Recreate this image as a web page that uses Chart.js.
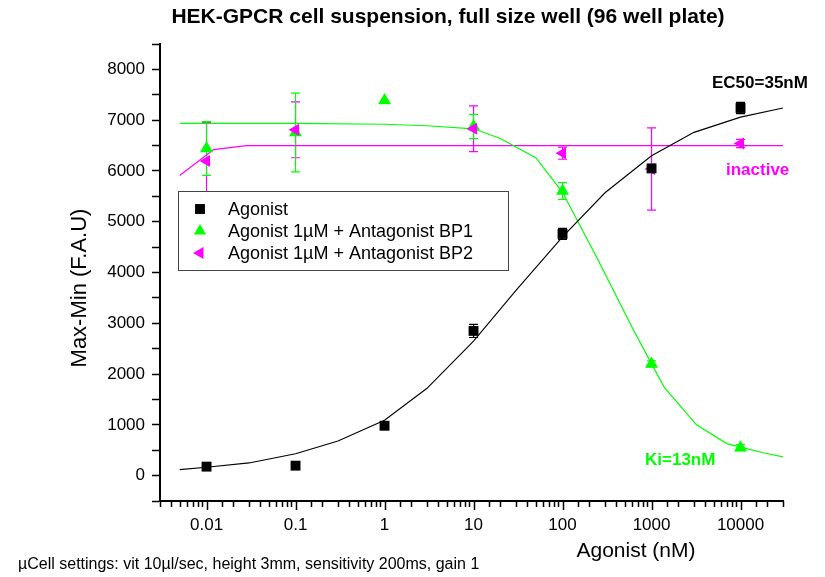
<!DOCTYPE html>
<html>
<head>
<meta charset="utf-8">
<title>HEK-GPCR cell suspension</title>
<script src="https://cdn.jsdelivr.net/npm/chart.js@4/dist/chart.umd.min.js"></script>
<style>
  body { margin: 0; background: #fff; }
  canvas { display: block; }
</style>
</head>
<body>
<canvas id="myChart" width="825" height="577"></canvas>
<script>
// measured points (Max-Min, F.A.U) vs agonist concentration (nM)
var agonistX = [0.01, 0.1, 1, 10, 100, 1000, 10000];
var agonistY = [177, 196, 982, 2850, 4760, 6050, 7240];
var agonistErr = [0, 0, 0, 130, 110, 60, 110];

var bp1X = [0.01, 0.1, 1, 10, 100, 1000, 10000];
var bp1Y = [6444, 6758, 7387, 6876, 5605, 2200, 550];
var bp1Err = [530, 775, 0, 240, 165, 60, 60];

var bp2X = [0.01, 0.1, 10, 100, 1000, 10000];
var bp2Y = [6195, 6810, 6830, 6350, 6040, 6540];
var bp2Err = [760, 550, 450, 120, 810, 80];

// fitted curves
var agonistFitX = [0.005, 0.01, 0.03, 0.1, 0.3, 1, 3, 10, 30, 100, 300, 1000, 3000, 10000, 30000];
var agonistFitY = [118, 165, 250, 430, 680, 1090, 1720, 2650, 3650, 4700, 5570, 6300, 6760, 7060, 7240];

var bp1FitX = [0.005, 0.1, 1, 3, 10, 20, 50, 100, 250, 600, 1000, 1400, 3200, 7000, 10000, 18000, 30000];
var bp1FitY = [6935, 6935, 6920, 6890, 6830, 6640, 6260, 5580, 4250, 2930, 2200, 1730, 1000, 630, 560, 450, 370];

var bp2FitX = [0.005, 0.012, 0.028, 30000];
var bp2FitY = [5910, 6420, 6500, 6500];

var xTickLabels = ["0.01", "0.1", "1", "10", "100", "1000", "10000"];
var yTickLabels = [0, 1000, 2000, 3000, 4000, 5000, 6000, 7000, 8000];

var GREEN = "#00ff00";
var MAGENTA = "#ff00ff";
var FONT = "'Liberation Sans', Arial, Helvetica, sans-serif";

function toPoints(xs, ys) {
  var out = [];
  for (var i = 0; i < xs.length; i++) {
    out.push({ x: xs[i], y: ys[i] });
  }
  return out;
}

function markerPath(ctx, style, x, y, r) {
  ctx.beginPath();
  if (style == "rect") {
    var s = r * Math.SQRT1_2;
    ctx.rect(x - s, y - s, 2 * s, 2 * s);
  } else if (style == "up") {
    ctx.moveTo(x, y - r);
    ctx.lineTo(x + r * 0.866, y + r * 0.5);
    ctx.lineTo(x - r * 0.866, y + r * 0.5);
    ctx.closePath();
  } else {
    ctx.moveTo(x - r, y);
    ctx.lineTo(x + r * 0.5, y - r * 0.866);
    ctx.lineTo(x + r * 0.5, y + r * 0.866);
    ctx.closePath();
  }
}

// vertical error bars with small caps, drawn under the markers
var errorBars = {
  id: "errorBars",
  beforeDatasetsDraw: function(chart) {
    var ctx = chart.ctx;
    var xs = chart.scales.x;
    var ys = chart.scales.y;
    ctx.save();
    chart.data.datasets.forEach(function(ds) {
      if (!ds.errors) return;
      ctx.strokeStyle = ds.borderColor;
      ctx.lineWidth = 1.2;
      for (var i = 0; i < ds.data.length; i++) {
        var e = ds.errors[i];
        if (!e) continue;
        var px = xs.getPixelForValue(ds.data[i].x);
        var top = ys.getPixelForValue(ds.data[i].y + e);
        var bot = ys.getPixelForValue(ds.data[i].y - e);
        ctx.beginPath();
        ctx.moveTo(px, top); ctx.lineTo(px, bot);
        ctx.moveTo(px - 4.5, top); ctx.lineTo(px + 4.5, top);
        ctx.moveTo(px - 4.5, bot); ctx.lineTo(px + 4.5, bot);
        ctx.stroke();
      }
    });
    ctx.restore();
  }
};

// legend box, log ticks on x and all the free text
var decorations = {
  id: "decorations",
  afterDatasetsDraw: function(chart) {
    var ctx = chart.ctx;
    ctx.save();
    ctx.fillStyle = "#fff";
    ctx.fillRect(178, 191, 330, 79);
    ctx.strokeStyle = "#444";
    ctx.lineWidth = 1;
    ctx.strokeRect(178.5, 191.5, 330, 79);

    var entries = [
      { text: "Agonist", color: "#000", style: "rect" },
      { text: "Agonist 1\u00b5M + Antagonist BP1", color: GREEN, style: "up" },
      { text: "Agonist 1\u00b5M + Antagonist BP2", color: MAGENTA, style: "left" }
    ];
    ctx.font = "18px " + FONT;
    ctx.textBaseline = "middle";
    ctx.textAlign = "left";
    for (var i = 0; i < entries.length; i++) {
      var ey = 209 + i * 22;
      ctx.fillStyle = entries[i].color;
      markerPath(ctx, entries[i].style, 200, ey, 7);
      ctx.fill();
      ctx.fillStyle = "#000";
      ctx.fillText(entries[i].text, 228, ey + 1);
    }
    ctx.restore();
  },
  afterDraw: function(chart) {
    var ctx = chart.ctx;
    var xs = chart.scales.x;
    var bottom = chart.chartArea.bottom;
    ctx.save();

    // x ticks: long at decades, short in between
    ctx.strokeStyle = "#000";
    ctx.lineWidth = 1.5;
    xs.ticks.forEach(function(t) {
      var lg = Math.log10(t.value);
      var major = Math.abs(lg - Math.round(lg)) < 1e-6;
      var px = Math.round(xs.getPixelForValue(t.value)) + 0.5;
      ctx.beginPath();
      ctx.moveTo(px, bottom);
      ctx.lineTo(px, bottom + (major ? 9 : 6));
      ctx.stroke();
    });

    ctx.fillStyle = "#000";
    ctx.textBaseline = "middle";
    ctx.textAlign = "center";
    ctx.font = "bold 21px " + FONT;
    ctx.fillText("HEK-GPCR cell suspension, full size well (96 well plate)", 448, 17);

    ctx.font = "21px " + FONT;
    ctx.fillText("Agonist (nM)", 636, 551);
    ctx.font = "22px " + FONT;
    ctx.save();
    ctx.translate(80, 288);
    ctx.rotate(-Math.PI / 2);
    ctx.fillText("Max-Min (F.A.U)", 0, 0);
    ctx.restore();

    ctx.textAlign = "left";
    ctx.font = "16px " + FONT;
    ctx.fillText("\u00b5Cell settings: vit 10\u00b5l/sec, height 3mm, sensitivity 200ms, gain 1", 18, 565);

    ctx.font = "bold 17px " + FONT;
    ctx.fillText("EC50=35nM", 712, 83);
    ctx.fillStyle = MAGENTA;
    ctx.fillText("inactive", 726, 170);
    ctx.fillStyle = GREEN;
    ctx.fillText("Ki=13nM", 645, 460);
    ctx.restore();
  }
};

function getGraph() {
  var ctx = document.getElementById("myChart").getContext("2d");
  var chart = new Chart(ctx, {
    type: "scatter",
    data: {
      datasets: [
        {
          label: "Agonist",
          data: toPoints(agonistX, agonistY),
          errors: agonistErr,
          backgroundColor: "#000",
          borderColor: "#000",
          pointStyle: "rect",
          pointRadius: 7,
          pointBorderWidth: 0,
          order: 1
        },
        {
          label: "Agonist 1\u00b5M + Antagonist BP2",
          data: toPoints(bp2X, bp2Y),
          errors: bp2Err,
          backgroundColor: MAGENTA,
          borderColor: MAGENTA,
          pointStyle: "triangle",
          rotation: -90,
          pointRadius: 7,
          pointBorderWidth: 0,
          order: 2
        },
        {
          label: "Agonist 1\u00b5M + Antagonist BP1",
          data: toPoints(bp1X, bp1Y),
          errors: bp1Err,
          backgroundColor: GREEN,
          borderColor: GREEN,
          pointStyle: "triangle",
          pointRadius: 7.5,
          pointBorderWidth: 0,
          order: 3
        },
        {
          label: "Agonist fit",
          data: toPoints(agonistFitX, agonistFitY),
          showLine: true,
          borderColor: "#000",
          borderWidth: 1.1,
          pointRadius: 0,
          order: 10
        },
        {
          label: "BP1 fit",
          data: toPoints(bp1FitX, bp1FitY),
          showLine: true,
          borderColor: GREEN,
          borderWidth: 1.2,
          pointRadius: 0,
          order: 11
        },
        {
          label: "BP2 fit",
          data: toPoints(bp2FitX, bp2FitY),
          showLine: true,
          borderColor: MAGENTA,
          borderWidth: 1.2,
          pointRadius: 0,
          order: 12
        }
      ]
    },
    options: {
      responsive: false,
      animation: false,
      devicePixelRatio: 1,
      layout: { padding: { top: 44, right: 42, left: 0, bottom: 0 } },
      plugins: {
        legend: { display: false },
        tooltip: { enabled: false }
      },
      scales: {
        x: {
          type: "logarithmic",
          min: 0.003,
          max: 30000,
          afterFit: function(scale) { scale.height = 76; },
          border: { display: true, color: "#000", width: 2 },
          grid: { display: true, drawOnChartArea: false, drawTicks: false, color: "rgba(0,0,0,0)" },
          ticks: {
            autoSkip: false,
            maxRotation: 0,
            padding: 14,
            color: "#000",
            font: { family: FONT, size: 17 },
            callback: function(value) {
              for (var i = 0; i < xTickLabels.length; i++) {
                if (Math.abs(Number(xTickLabels[i]) - value) < 1e-9 * Math.max(1, value)) {
                  return xTickLabels[i];
                }
              }
              return "";
            }
          }
        },
        y: {
          min: -500,
          max: 8500,
          afterFit: function(scale) { scale.width = 160; },
          border: { display: true, color: "#000", width: 2 },
          grid: { drawOnChartArea: false, drawTicks: true, tickLength: 8, tickWidth: 1.5, tickColor: "#000" },
          ticks: {
            stepSize: 500,
            padding: 7,
            color: "#000",
            font: { family: FONT, size: 17 },
            callback: function(value) {
              return yTickLabels.indexOf(value) >= 0 ? String(value) : "";
            }
          }
        }
      }
    },
    plugins: [errorBars, decorations]
  });
}

function init() {
  getGraph();
}

init();
</script>
</body>
</html>
